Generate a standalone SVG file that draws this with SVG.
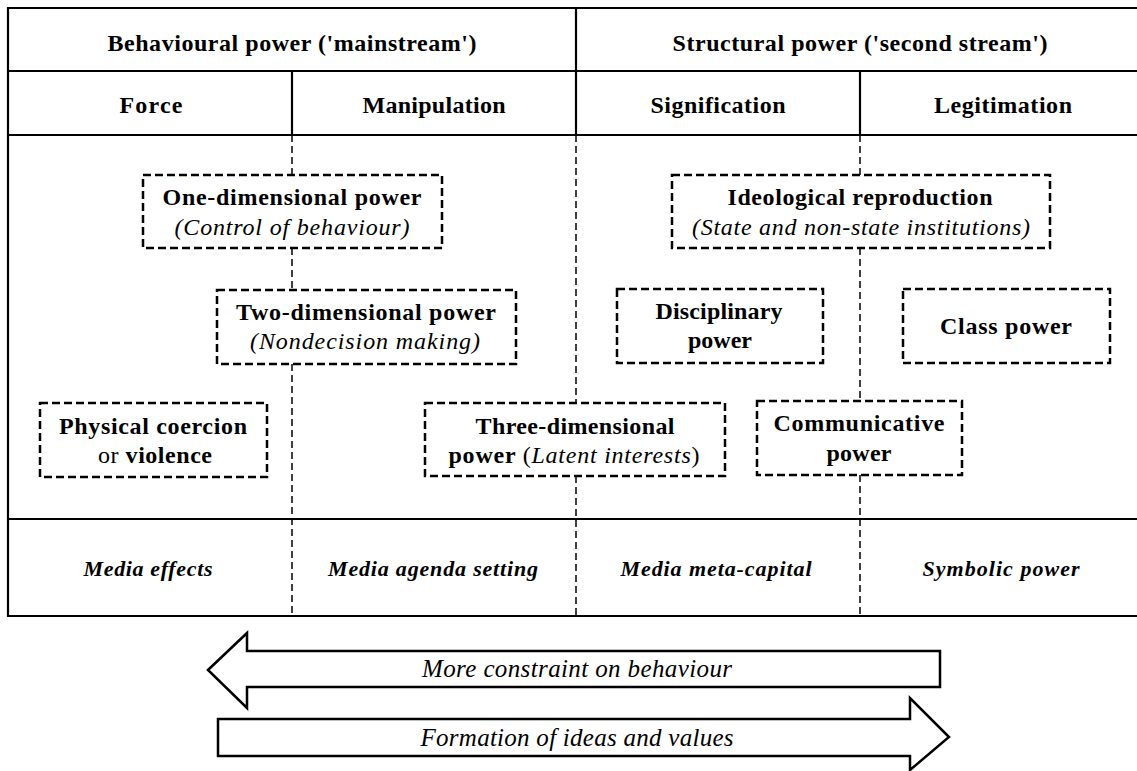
<svg xmlns="http://www.w3.org/2000/svg" width="1137" height="771" viewBox="0 0 1137 771">
<style>
.solid{stroke:#000;stroke-width:2.2;fill:none}
.conn{stroke:#000;stroke-width:1.5;stroke-dasharray:7 4;fill:none}
.box{fill:#fff;stroke:#000;stroke-width:2.5;stroke-dasharray:8 4}
.hd{font-family:"Liberation Serif","Times New Roman",serif;font-weight:bold;font-size:24px;text-anchor:middle;fill:#000}
.bt{font-family:"Liberation Serif","Times New Roman",serif;font-weight:bold;font-size:24px;text-anchor:middle;fill:#000}
.it{font-family:"Liberation Serif","Times New Roman",serif;font-style:italic;font-size:24px;text-anchor:middle;fill:#000}
.bi{font-family:"Liberation Serif","Times New Roman",serif;font-style:italic;font-weight:bold;font-size:22px;text-anchor:middle;fill:#000}
.arr{fill:#fff;stroke:#000;stroke-width:2.5}
.at{font-family:"Liberation Serif","Times New Roman",serif;font-style:italic;font-size:25px;text-anchor:middle;fill:#000}
</style>
<rect width="1137" height="771" fill="#fff"/>
<g id="table">
<path class="solid" d="M1137,8 H8 V616 H1137"/>
<line class="solid" x1="8" y1="71" x2="1137" y2="71"/>
<line class="solid" x1="8" y1="135" x2="1137" y2="135"/>
<line class="solid" x1="8" y1="519" x2="1137" y2="519"/>
<line class="solid" x1="576" y1="8" x2="576" y2="135"/>
<line class="solid" x1="292" y1="71" x2="292" y2="135"/>
<line class="solid" x1="860" y1="71" x2="860" y2="135"/>
<text class="hd" x="292" y="51" textLength="369" lengthAdjust="spacing">Behavioural power ('mainstream')</text>
<text class="hd" x="860" y="51" textLength="375" lengthAdjust="spacing">Structural power ('second stream')</text>
<text class="hd" x="151" y="113" textLength="63" lengthAdjust="spacing">Force</text>
<text class="hd" x="434" y="113" textLength="143" lengthAdjust="spacing">Manipulation</text>
<text class="hd" x="718" y="113" textLength="135" lengthAdjust="spacing">Signification</text>
<text class="hd" x="1003" y="113" textLength="138" lengthAdjust="spacing">Legitimation</text>
<text class="bi" x="148" y="576" textLength="129" lengthAdjust="spacing">Media effects</text>
<text class="bi" x="433" y="576" textLength="210" lengthAdjust="spacing">Media agenda setting</text>
<text class="bi" x="716" y="576" textLength="191" lengthAdjust="spacing">Media meta-capital</text>
<text class="bi" x="1001" y="576" textLength="157" lengthAdjust="spacing">Symbolic power</text>
</g>
<g id="connectors">
<line class="conn" x1="292" y1="135" x2="292" y2="175"/>
<line class="conn" x1="292" y1="248" x2="292" y2="290"/>
<line class="conn" x1="292" y1="364" x2="292" y2="616"/>
<line class="conn" x1="576" y1="135" x2="576" y2="403"/>
<line class="conn" x1="576" y1="476" x2="576" y2="616"/>
<line class="conn" x1="860" y1="135" x2="860" y2="175"/>
<line class="conn" x1="860" y1="248" x2="860" y2="401"/>
<line class="conn" x1="860" y1="475" x2="860" y2="616"/>
</g>
<g id="one-dimensional">
<rect class="box" x="143" y="175" width="299" height="73"/>
<text class="bt" x="292" y="205" textLength="259" lengthAdjust="spacing">One-dimensional power</text>
<text class="it" x="292" y="235" textLength="235" lengthAdjust="spacing">(Control of behaviour)</text>
</g>
<g id="two-dimensional">
<rect class="box" x="217" y="290" width="299" height="74"/>
<text class="bt" x="366" y="320" textLength="260" lengthAdjust="spacing">Two-dimensional power</text>
<text class="it" x="365" y="349" textLength="230" lengthAdjust="spacing">(Nondecision making)</text>
</g>
<g id="physical-coercion">
<rect class="box" x="40" y="403" width="227" height="74"/>
<text class="bt" x="153" y="434" textLength="188" lengthAdjust="spacing">Physical coercion</text>
<text class="bt" x="155" y="463" textLength="114" lengthAdjust="spacing"><tspan font-weight="normal">or </tspan>violence</text>
</g>
<g id="three-dimensional">
<rect class="box" x="425" y="403" width="300" height="73"/>
<text class="bt" x="575" y="434" textLength="199" lengthAdjust="spacing">Three-dimensional</text>
<text class="bt" x="574" y="463" textLength="251" lengthAdjust="spacing">power <tspan font-weight="normal">(</tspan><tspan font-weight="normal" font-style="italic">Latent interests</tspan><tspan font-weight="normal">)</tspan></text>
</g>
<g id="ideological-reproduction">
<rect class="box" x="672" y="175" width="378" height="73"/>
<text class="bt" x="860" y="205" textLength="265" lengthAdjust="spacing">Ideological reproduction</text>
<text class="it" x="861" y="235" textLength="338" lengthAdjust="spacing">(State and non-state institutions)</text>
</g>
<g id="disciplinary">
<rect class="box" x="617" y="289" width="206" height="74"/>
<text class="bt" x="719" y="319" textLength="127" lengthAdjust="spacing">Disciplinary</text>
<text class="bt" x="720" y="348" textLength="64" lengthAdjust="spacing">power</text>
</g>
<g id="class-power">
<rect class="box" x="903" y="289" width="207" height="74"/>
<text class="bt" x="1006" y="334" textLength="132" lengthAdjust="spacing">Class power</text>
</g>
<g id="communicative">
<rect class="box" x="757" y="401" width="205" height="74"/>
<text class="bt" x="859" y="431" textLength="171" lengthAdjust="spacing">Communicative</text>
<text class="bt" x="859" y="461" textLength="65" lengthAdjust="spacing">power</text>
</g>
<g id="arrow-left">
<polygon class="arr" points="208,670 247,633 247,651 940,651 940,687 247,687 247,708"/>
<text class="at" x="577" y="677" textLength="310" lengthAdjust="spacing">More constraint on behaviour</text>
</g>
<g id="arrow-right">
<polygon class="arr" points="218,719 910,719 910,698 949,737 910,770 910,756 218,756"/>
<text class="at" x="577" y="746" textLength="313" lengthAdjust="spacing">Formation of ideas and values</text>
</g>
</svg>
